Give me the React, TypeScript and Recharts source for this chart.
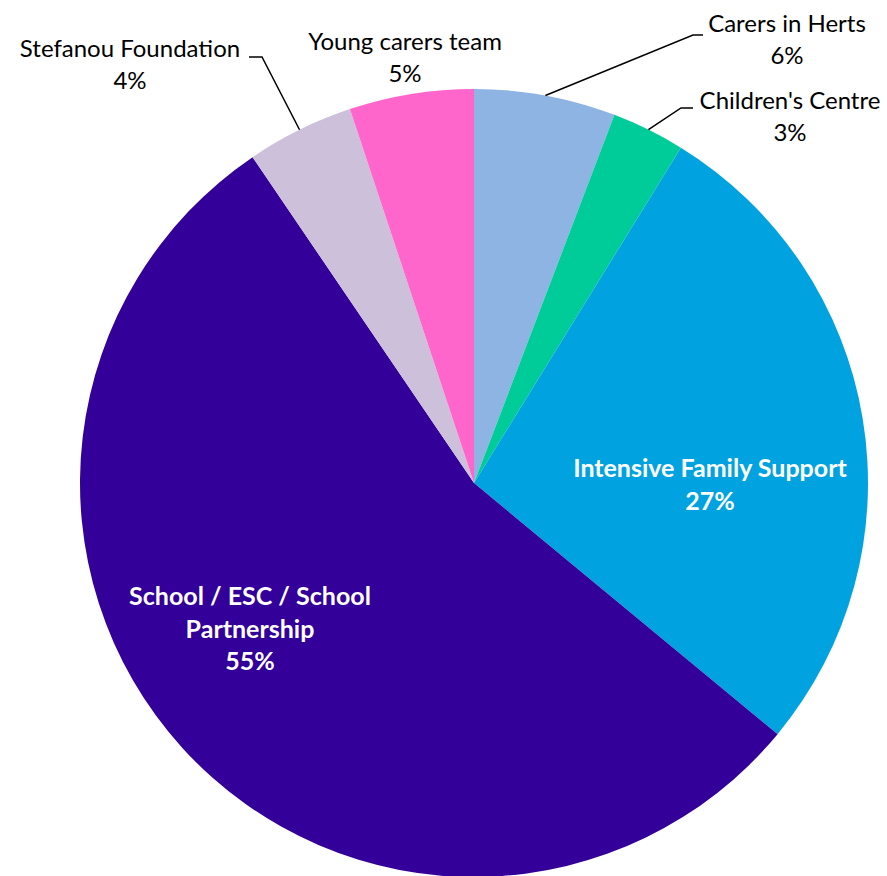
import React from "react"
import { PieChart, Pie, Cell } from "recharts"

const categories = [
  "Carers in Herts",
  "Children's Centre",
  "Intensive Family Support",
  "School / ESC / School Partnership",
  "Stefanou Foundation",
  "Young carers team",
]
const shares = [5.8, 3.0, 27.2, 54.5, 4.4, 5.1]
const percentLabels = ["6%", "3%", "27%", "55%", "4%", "5%"]
const colors = ["#8EB4E3", "#00CC99", "#00A3E0", "#330099", "#CCC0DA", "#FF66CC"]

const data = categories.map((name, i) => ({ name, value: shares[i] }))

// where each label sits, relative to the pie centre (text lines) plus leader elbows
const labelLayout = [
  { lines: ["Carers in Herts"], tx: 313, ty: -461, elbow: [219, -448], end: [229, -448], inside: false },
  { lines: ["Children's Centre"], tx: 316, ty: -384, elbow: [207, -375], end: [219, -375], inside: false },
  { lines: ["Intensive Family Support"], tx: 236, ty: -16, inside: true },
  { lines: ["School / ESC / School", "Partnership"], tx: -224, ty: 112, inside: true },
  { lines: ["Stefanou Foundation"], tx: -344, ty: -436, elbow: [-212, -426], end: [-225, -426], inside: false },
  { lines: ["Young carers team"], tx: -69, ty: -443, inside: false },
]

const RAD = Math.PI / 180
const LINE_H = 32.5

const renderLabel = (props: any) => {
  const { cx, cy, midAngle, outerRadius, index } = props
  const lay = labelLayout[index]
  const all = [...lay.lines, percentLabels[index]]
  const fill = lay.inside ? "#FFFFFF" : "#000000"
  const weight = lay.inside ? 700 : 400
  let leader = null
  if (lay.elbow) {
    const sx = cx + outerRadius * Math.cos(-midAngle * RAD)
    const sy = cy + outerRadius * Math.sin(-midAngle * RAD)
    leader = (
      <polyline
        points={`${sx},${sy} ${cx + lay.elbow[0]},${cy + lay.elbow[1]} ${cx + lay.end![0]},${cy + lay.end![1]}`}
        fill="none"
        stroke="#000000"
        strokeWidth={1.5}
      />
    )
  }
  return (
    <g key={`lbl-${index}`}>
      {leader}
      {all.map((t, k) => (
        <text
          key={k}
          x={cx + lay.tx}
          y={cy + lay.ty + k * LINE_H}
          textAnchor="middle"
          dominantBaseline="central"
          fill={fill}
          fontWeight={weight}
          fontSize={lay.inside ? 25 : 24}
          fontFamily="Lato, 'Open Sans', sans-serif"
        >
          {t}
        </text>
      ))}
    </g>
  )
}

export default function App() {
  return (
    <div style={{ width: 887, height: 876 }}>
      <style>{`body { margin: 0; overflow: hidden; }`}</style>
      <PieChart width={887} height={876} margin={{ top: 0, right: 0, bottom: 0, left: 0 }}>
        <Pie
          data={data}
          dataKey="value"
          nameKey="name"
          cx={474}
          cy={483}
          outerRadius={394}
          startAngle={90}
          endAngle={-270}
          stroke="none"
          label={renderLabel}
          labelLine={false}
          isAnimationActive={false}
        >
          {data.map((d, i) => (
            <Cell key={d.name} fill={colors[i]} />
          ))}
        </Pie>
      </PieChart>
    </div>
  )
}
